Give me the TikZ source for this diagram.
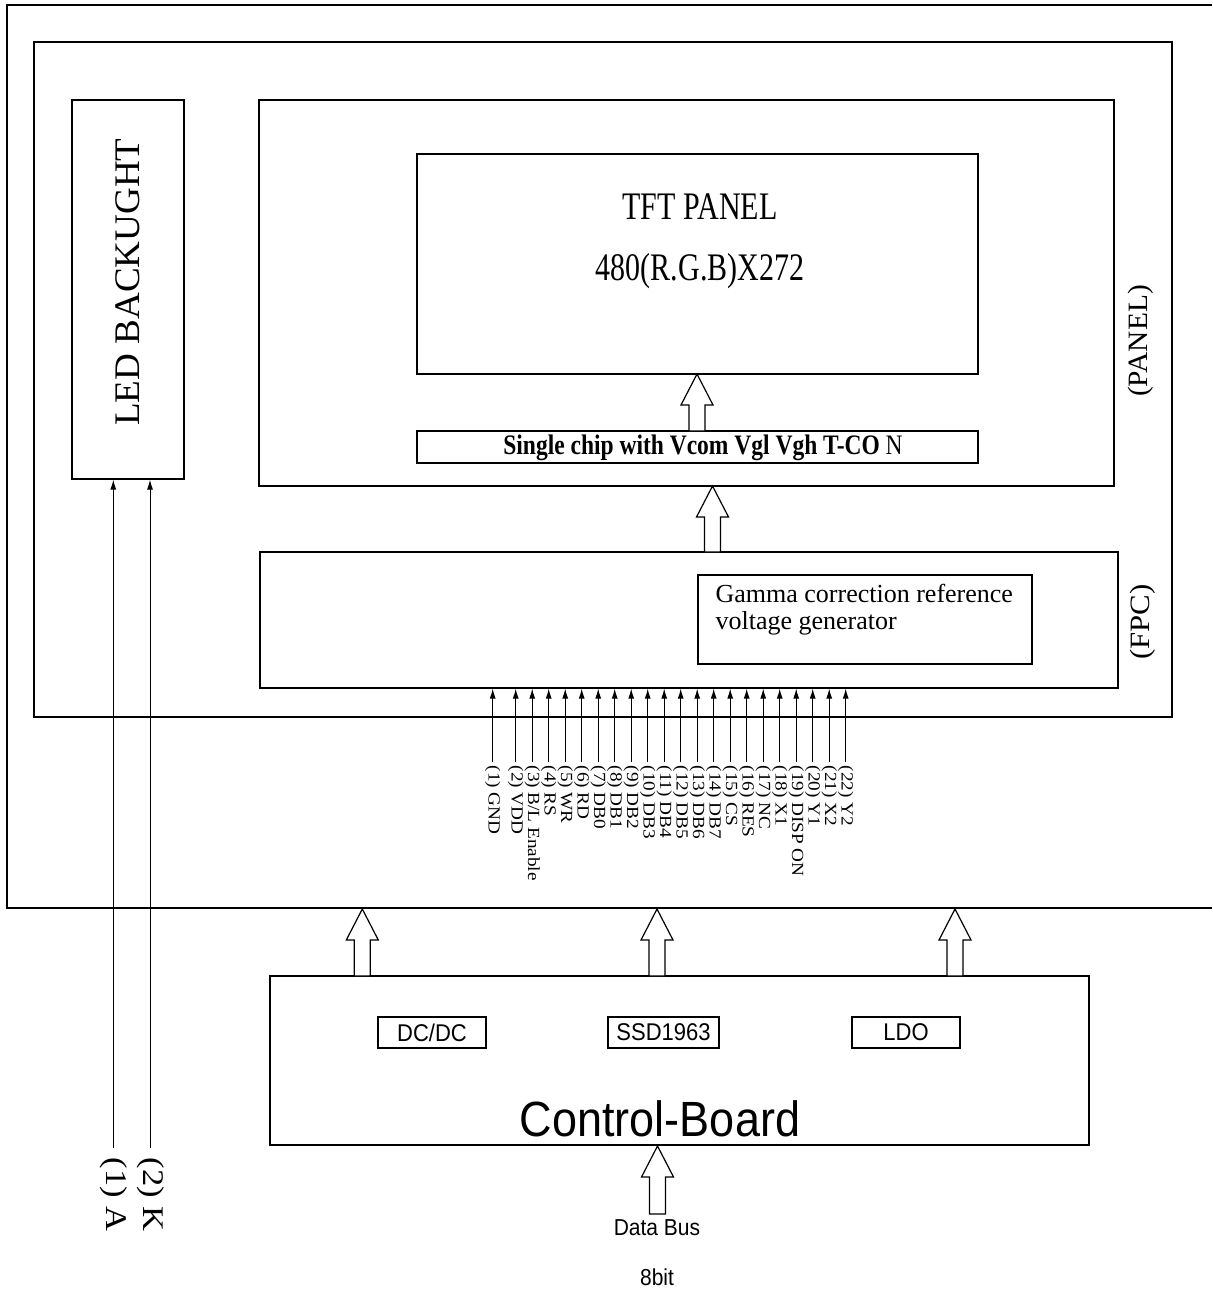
\documentclass[tikz,border=0pt]{standalone}
\usepackage{fontspec}
\setmainfont{Liberation Serif}
\setsansfont{Liberation Sans}
\usetikzlibrary{arrows.meta}
\newcommand{\myfs}[1]{\fontsize{#1}{#1}\selectfont}
\newcommand{\vst}[2]{\scalebox{1}[#1]{#2}}
\newcommand{\harrow}[4]{% name, x, tip y, tail y
  \draw[hollow] (#2-8,#4) -- (#2-8,#3+31) -- (#2-16,#3+31) -- (#2,#3) -- (#2+16,#3+31) -- (#2+8,#3+31) -- (#2+8,#4) -- cycle;}
\begin{document}
\begin{tikzpicture}[x=1pt,y=-1pt,line width=1.2pt,
  box/.style={draw,inner sep=0pt},
  pinarrow/.style={-{Latex[length=10pt,width=6pt]},line width=1pt},
  pinlabel/.style={rotate=-90,anchor=west,inner sep=0pt,font=\myfs{17}},
  hollow/.style={draw,fill=white,line width=1.2pt},
  sublabel/.style={box,font=\sffamily\myfs{22},minimum height=31pt}
]
\useasboundingbox (0,0) rectangle (1212,1289);
% outer frame (open on the right)
\draw (1212,5) -- (7,5) -- (7,908) -- (1212,908);
% panel frame
\node[box,minimum width=1138pt,minimum height=675pt] (panel) at (603,379.5) {};
\node[rotate=90,font=\myfs{28}] (panellbl) at (1141,341) {\scalebox{1.05}[1]{(PANEL)}};
% LED backlight
\node[box,minimum width=112pt,minimum height=379pt] (led) at (128,289.5) {};
\node[rotate=90,font=\myfs{36}] (ledlbl) at (128,282) {\scalebox{1.03}[1]{LED BACKUGHT}};
% TFT
\node[box,minimum width=855pt,minimum height=386pt] (tftout) at (686.5,293) {};
\node[box,minimum width=561pt,minimum height=220pt] (tft) at (697.5,264) {};
\node[font=\myfs{30}] (tft1) at (700,207) {\vst{1.3}{TFT PANEL}};
\node[font=\myfs{30}] (tft2) at (700,271) {\vst{1.3}{480(R.G.B)X272}};
\node[box,minimum width=561pt,minimum height=32pt] (chip) at (697.5,447) {};
\node[font=\myfs{23.5}] (chiplbl) at (703,448) {\vst{1.2}{\textbf{Single chip with Vcom Vgl Vgh T-CO} N}};
% FPC
\node[box,minimum width=858pt,minimum height=136pt] (fpc) at (689,620) {};
\node[box,minimum width=334pt,minimum height=89pt] (gamma) at (865,619.5) {};
\node[anchor=west,inner sep=0pt,font=\myfs{26}] (g1) at (715,593) {Gamma correction reference};
\node[anchor=west,inner sep=0pt,font=\myfs{26}] (g2) at (715,623) {voltage generator};
\node[rotate=90,font=\myfs{28}] (fpclbl) at (1143,622) {\scalebox{1.1}[1]{(FPC)}};
% hollow arrows inside panel
\harrow{a1}{697}{374}{431}
\harrow{a2}{712.5}{486}{552}
% pins
\foreach \i/\x/\t in {1/492.7/{(1) GND},2/515.7/{(2) VDD},3/532.2/{(3) B/L Enable},4/548.7/{(4) RS},5/565.2/{(5) WR},
  6/581.7/{(6) RD},7/598.2/{(7) DB0},8/614.7/{(8) DB1},9/631.2/{(9) DB2},10/647.7/{(10) DB3},11/664.2/{(11) DB4},
  12/680.7/{(12) DB5},13/697.2/{(13) DB6},14/713.7/{(14) DB7},15/730.2/{(15) CS},16/746.7/{(16) RES},17/763.2/{(17) NC},
  18/779.7/{(18) X1},19/796.2/{(19) DISP ON},20/812.7/{(20) Y1},21/829.2/{(21) X2},22/845.7/{(22) Y2}}{
  \coordinate (p\i) at (\x,762);
  \draw[pinarrow] (p\i) -- (p\i |- fpc.south);
  \node[pinlabel] (pl\i) at (\x,765) {\scalebox{1.13}[1]{\t}};
}
% LED wires
\coordinate (wa) at (113.3,1148);
\coordinate (wk) at (150,1148);
\draw[pinarrow] (wa) -- (wa |- led.south);
\draw[pinarrow] (wk) -- (wk |- led.south);
\node[rotate=-90,anchor=west,inner sep=0pt,font=\myfs{30}] (la) at (114,1157) {\scalebox{1.15}[1]{(1) A}};
\node[rotate=-90,anchor=west,inner sep=0pt,font=\myfs{30}] (lk) at (151,1157) {\scalebox{1.15}[1]{(2) K}};
% control board
\node[box,minimum width=819pt,minimum height=169pt] (cb) at (679.5,1060.5) {};
\node[font=\sffamily\myfs{45}] (cblbl) at (660,1119) {\vst{1.1}{Control-Board}};
\node[sublabel,minimum width=108pt] (dcdc) at (432,1032.5) {\vst{1.1}{DC/DC}};
\node[sublabel,minimum width=111pt] (ssd) at (663.5,1032.5) {\vst{1.1}{SSD1963}};
\node[sublabel,minimum width=108pt] (ldo) at (906,1032.5) {\vst{1.1}{LDO}};
\harrow{b1}{362.3}{909}{976}
\harrow{b2}{657}{909}{976}
\harrow{b3}{955}{909}{976}
\harrow{b4}{657.5}{1146}{1214}
\node[font=\sffamily\myfs{21}] (db) at (657,1228) {\vst{1.1}{Data Bus}};
\node[font=\sffamily\myfs{21}] (bit) at (657,1277) {\vst{1.1}{8bit}};
\end{tikzpicture}
\end{document}
